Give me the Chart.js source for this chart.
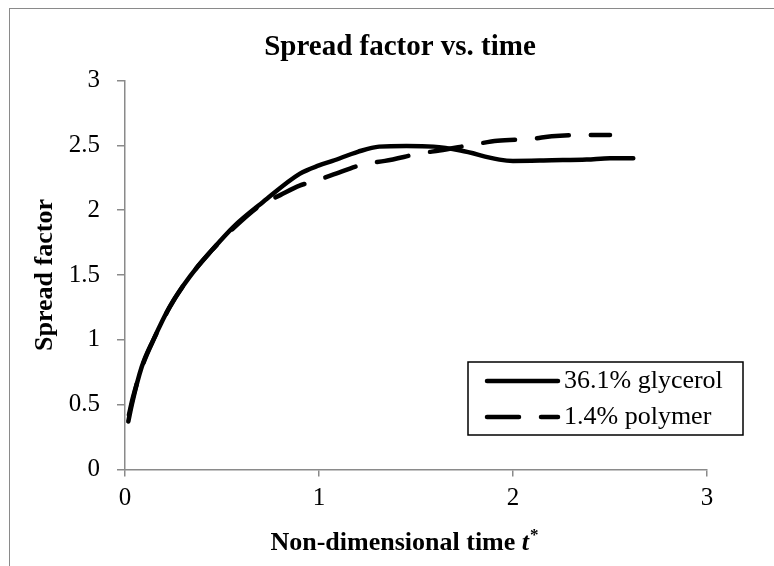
<!DOCTYPE html>
<html>
<head>
<meta charset="utf-8">
<script src="https://cdn.jsdelivr.net/npm/chart.js@4"></script>
<style>
  body { margin: 0; background: #fff; }
  #wrap { position: relative; width: 774px; height: 566px; overflow: hidden; }
  #marco { position: absolute; left: 9px; top: 8px; width: 800px; height: 600px;
           border-left: 1.5px solid #8a8a8a; border-top: 1.5px solid #8a8a8a; }
  #grafico { position: absolute; left: 0; top: 0; }
</style>
</head>
<body>
<div id="wrap">
  <div id="marco"></div>
  <canvas id="grafico" width="774" height="566"></canvas>
</div>
<script>
// datos
const glicerolT = [0.017, 0.035, 0.086, 0.146, 0.23, 0.335, 0.447, 0.558, 0.713, 0.90, 1.0, 1.07, 1.2, 1.31, 1.45, 1.59, 1.73, 1.93, 2.0, 2.2, 2.38, 2.5, 2.62];
const glicerolS = [0.37, 0.50, 0.79, 1.00, 1.255, 1.49, 1.69, 1.87, 2.065, 2.28, 2.345, 2.38, 2.45, 2.49, 2.495, 2.49, 2.46, 2.39, 2.38, 2.385, 2.39, 2.40, 2.40];

const polimeroT = [0.02, 0.04, 0.09, 0.15, 0.23, 0.335, 0.447, 0.558, 0.70, 0.80, 0.90, 0.97, 1.065, 1.245, 1.34, 1.53, 1.62, 1.81, 1.92, 2.10, 2.20, 2.39, 2.50];
const polimeroS = [0.42, 0.55, 0.80, 1.01, 1.25, 1.49, 1.69, 1.86, 2.04, 2.116, 2.19, 2.22, 2.27, 2.36, 2.38, 2.44, 2.46, 2.51, 2.535, 2.55, 2.57, 2.58, 2.58];

const series = ["36.1% glycerol", "1.4% polymer"];
const xTicks = [0, 1, 2, 3];
const yTicks = [0, 0.5, 1, 1.5, 2, 2.5, 3];

const titulo = "Spread factor vs. time";
const tituloX = "Non-dimensional time ";
const tituloY = "Spread factor";

const serif = '"Liberation Serif", "Times New Roman", serif';
const gris = '#8a8a8a';
const guiones = [32, 22];

// Titulo, titulo del eje X y leyenda dibujados a mano
const extras = {
    id: 'extras',
    afterDraw(chart) {
        const ctx = chart.ctx;
        ctx.save();
        ctx.fillStyle = '#000';

        // titulo
        ctx.font = 'bold 29px ' + serif;
        ctx.textAlign = 'center';
        ctx.textBaseline = 'alphabetic';
        ctx.fillText(titulo, 400, 55);

        // titulo eje X con t* en cursiva
        ctx.textAlign = 'left';
        ctx.font = 'bold 26px ' + serif;
        let w1 = ctx.measureText(tituloX).width;
        ctx.font = 'italic bold 26px ' + serif;
        let w2 = ctx.measureText('t').width;
        ctx.font = 'bold 17px ' + serif;
        let w3 = ctx.measureText('*').width;
        let x0 = 404 - (w1 + w2 + w3) / 2;
        ctx.font = 'bold 26px ' + serif;
        ctx.fillText(tituloX, x0, 550);
        ctx.font = 'italic bold 26px ' + serif;
        ctx.fillText('t', x0 + w1, 550);
        ctx.font = 'bold 17px ' + serif;
        ctx.fillText('*', x0 + w1 + w2 + 1, 540);

        // leyenda
        ctx.strokeStyle = '#000';
        ctx.lineWidth = 1.5;
        ctx.strokeRect(468, 362, 275, 73);
        const filas = [381, 417];
        chart.data.datasets.forEach((d, i) => {
            ctx.beginPath();
            ctx.lineWidth = d.borderWidth;
            ctx.lineCap = 'round';
            ctx.setLineDash(d.borderDash || []);
            ctx.moveTo(487, filas[i]);
            ctx.lineTo(558, filas[i]);
            ctx.stroke();
            ctx.setLineDash([]);
            ctx.font = '26px ' + serif;
            ctx.textBaseline = 'middle';
            ctx.fillText(d.label, 564, filas[i]);
        });
        ctx.restore();
    }
};

const ctx = document.getElementById('grafico').getContext('2d');
new Chart(ctx, {
    type: 'line',
    data: {
        datasets: [
            {
                label: series[0],
                data: glicerolT.map((t, i) => ({ x: t, y: glicerolS[i] })),
                borderColor: '#000',
                borderWidth: 4.5,
                borderCapStyle: 'round',
                borderJoinStyle: 'round',
                pointRadius: 0,
                cubicInterpolationMode: 'monotone',
                fill: false
            },
            {
                label: series[1],
                data: polimeroT.map((t, i) => ({ x: t, y: polimeroS[i] })),
                borderColor: '#000',
                borderWidth: 4.5,
                borderDash: guiones,
                borderCapStyle: 'round',
                borderJoinStyle: 'round',
                pointRadius: 0,
                cubicInterpolationMode: 'monotone',
                fill: false
            }
        ]
    },
    options: {
        responsive: false,
        animation: false,
        devicePixelRatio: 1,
        layout: { padding: { top: 80.5, right: 67, left: 0, bottom: 0 } },
        plugins: {
            legend: { display: false },
            title: { display: false },
            tooltip: { enabled: false }
        },
        scales: {
            x: {
                type: 'linear',
                min: 0, max: 3,
                afterBuildTicks: (s) => { s.ticks = xTicks.map(v => ({ value: v })); },
                afterFit: (s) => { s.height = 96.5; },
                border: { display: true, color: gris, width: 1.5 },
                grid: { drawOnChartArea: false, drawTicks: true, tickLength: 7, color: gris, lineWidth: 1.5 },
                ticks: { color: '#000', padding: 7, font: { family: serif, size: 25 }, callback: (v) => String(v) }
            },
            y: {
                type: 'linear',
                min: 0, max: 3,
                afterBuildTicks: (s) => { s.ticks = yTicks.map(v => ({ value: v })); },
                afterFit: (s) => { s.width = 125; },
                border: { display: true, color: gris, width: 1.5 },
                grid: { drawOnChartArea: false, drawTicks: true, tickLength: 8, color: gris, lineWidth: 1.5 },
                ticks: { color: '#000', padding: 17, font: { family: serif, size: 25 }, callback: (v) => String(v) },
                title: {
                    display: true,
                    text: tituloY,
                    color: '#000',
                    padding: { top: 30, bottom: 0 },
                    font: { family: serif, size: 26, weight: 'bold' }
                }
            }
        }
    },
    plugins: [extras]
});
</script>
</body>
</html>
